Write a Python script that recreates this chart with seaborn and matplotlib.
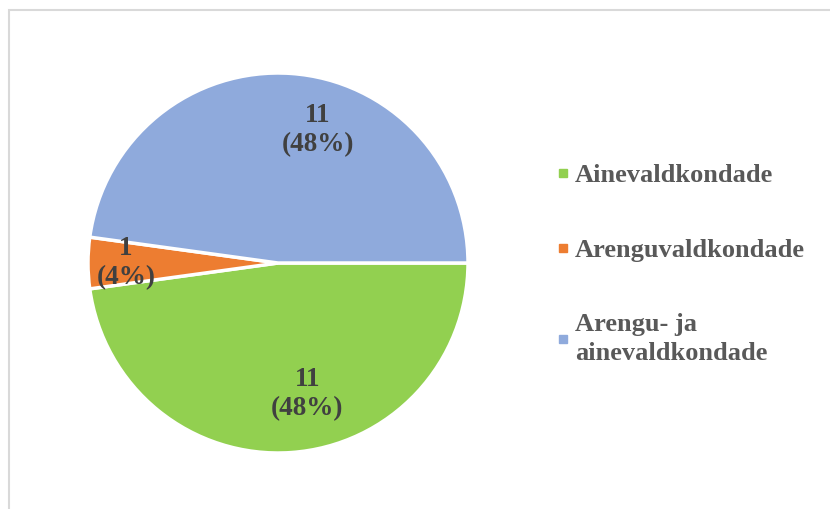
import matplotlib
matplotlib.use("Agg")
import matplotlib.pyplot as plt
import matplotlib.patches as mpatches
from matplotlib.lines import Line2D
import seaborn as sns
import numpy as np

categories = ["Ainevaldkondade", "Arenguvaldkondade", "Arengu- ja\nainevaldkondade"]
values = [11, 1, 11]
percents = ["48%", "4%", "48%"]
colors = ["#92D050", "#ED7D31", "#8FAADC"]

sns.set_theme(style="white")
plt.rcParams['font.family'] = ['Liberation Serif', 'DejaVu Serif']

W, H = 830, 509
fig = plt.figure(figsize=(W / 100, H / 100), dpi=100)
fig.patch.set_facecolor("white")

# chart frame
fig.add_artist(mpatches.Rectangle((9 / W, -0.1), 1.2, (H - 10) / H + 0.1,
                                  transform=fig.transFigure, fill=False,
                                  edgecolor="#D9D9D9", linewidth=1.5))

cx, cy, r = 278, 263, 190
ax = fig.add_axes([(cx - r) / W, (H - cy - r) / H, 2 * r / W, 2 * r / H])
palette = sns.color_palette(colors)
wedges, _ = ax.pie(values, colors=palette, startangle=0, counterclock=False,
                   radius=1.0, wedgeprops=dict(edgecolor="white", linewidth=2.5))
ax.set_xlim(-1, 1)
ax.set_ylim(-1, 1)
ax.set_aspect("equal")
ax.axis("off")

# data labels (Excel best-fit style offsets)
label_pos = [(0.155, -0.69), (-0.80, 0.0), (0.21, 0.70)]
for v, p, (lx, ly) in zip(values, percents, label_pos):
    ax.text(lx, ly, f"{v}\n({p})", ha="center", va="center", fontsize=19.5,
            fontweight="bold", color="#404040", linespacing=1.2)

handles = [Line2D([0], [0], marker="s", linestyle="none", markersize=6,
                  markerfacecolor=c, markeredgecolor=c) for c in colors]
leg = fig.legend(handles, categories, loc="upper left",
                 bbox_to_anchor=(546 / W, 1 - 153 / H), frameon=False,
                 prop=dict(size=19, weight="bold"), labelcolor="#595959",
                 handlelength=0.5, handletextpad=0.2, labelspacing=1.95,
                 borderaxespad=0)
for t in leg.get_texts():
    t.set_linespacing(1.3)

fig.savefig("out.png", dpi=100, facecolor="white")
